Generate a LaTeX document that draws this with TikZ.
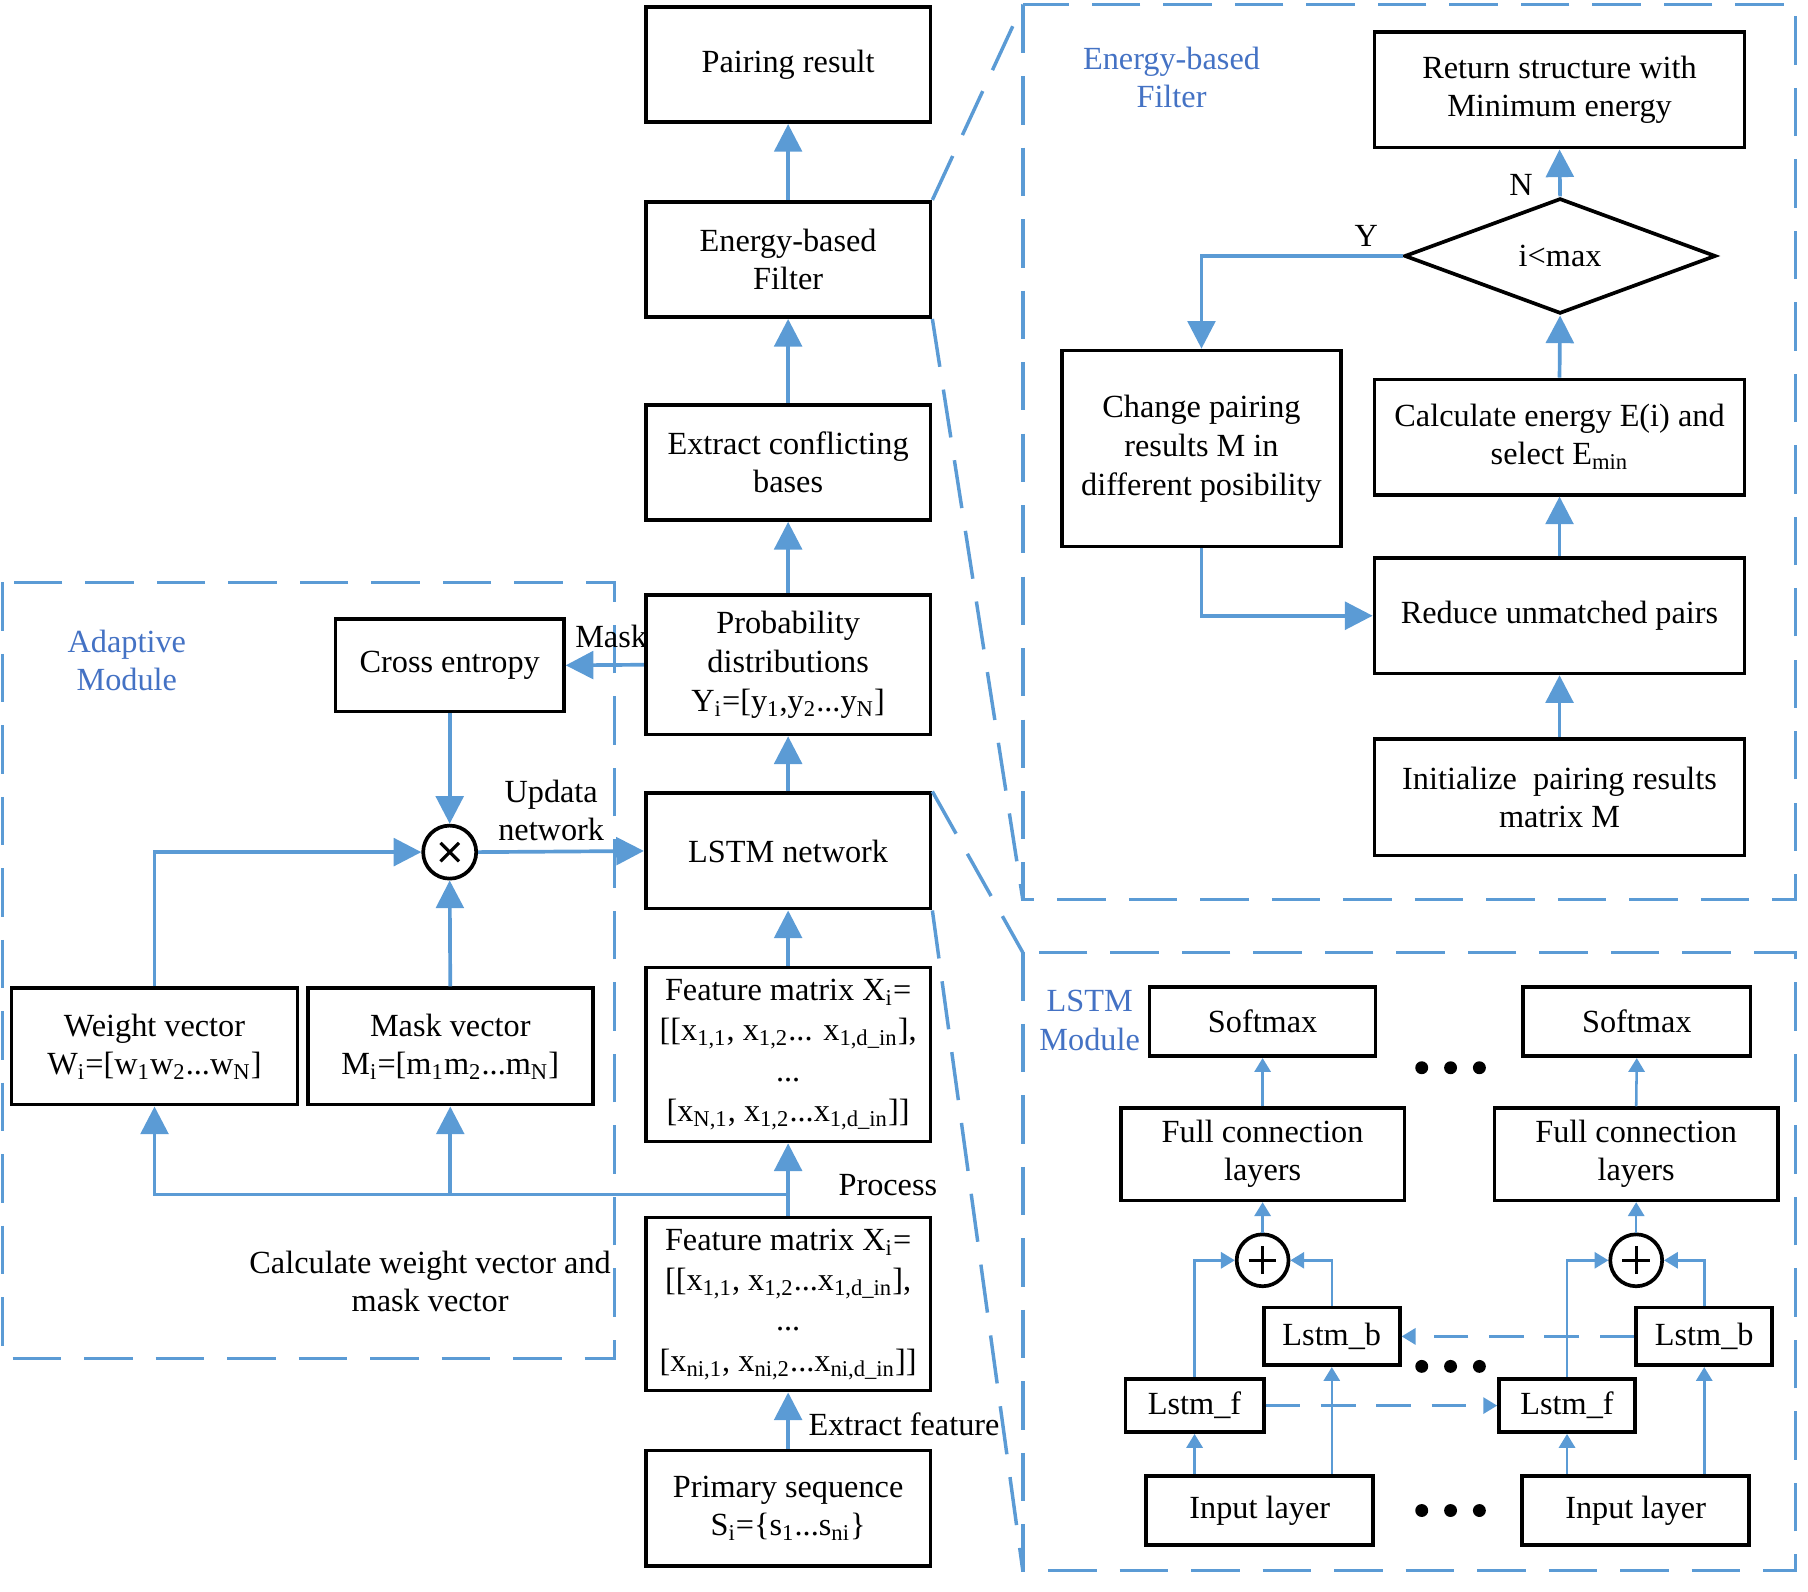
\documentclass[tikz,border=0pt]{standalone}
\usepackage{fontspec}
\setmainfont{Liberation Serif}
\usetikzlibrary{arrows.meta,shapes.geometric,calc}
\definecolor{lblue}{RGB}{91,155,213}
\definecolor{tblue}{RGB}{68,114,196}
\begin{document}
\begin{tikzpicture}[x=0.5pt,y=-0.5pt,
  every node/.style={font=\fontsize{14}{16.5}\selectfont, align=center, inner sep=0pt},
  box/.style={draw=black, line width=1.6pt, fill=white},
  arr/.style={draw=lblue, line width=1.6pt, -{Triangle[length=12pt,width=12pt]}},
  sarr/.style={draw=lblue, line width=1.1pt, -{Triangle[length=6pt,width=7pt]}},
  sdash/.style={sarr, dash pattern=on 15pt off 9pt},
  panel/.style={draw=lblue, line width=1.5pt, dash pattern=on 21pt off 10pt},
  title/.style={text=tblue},
  dot/.style={circle, fill=black, minimum size=5.6pt, inner sep=0pt},
]
\useasboundingbox (0,0) rectangle (1568,1380);

% ---------- panels ----------
\coordinate (aNW) at (2,505);   \coordinate (aSE) at (533,1178);
\coordinate (eNW) at (887,4);   \coordinate (eSE) at (1557,780);  \coordinate (eSW) at (887,780);
\coordinate (lNW) at (887,826); \coordinate (lSE) at (1557,1362); \coordinate (lSW) at (887,1362);
\draw[panel] (aNW) rectangle (aSE);
\draw[panel] (eNW) rectangle (eSE);
\draw[panel] (lNW) rectangle (lSE);

% ---------- central column ----------
\node[box, minimum width=123.5pt, minimum height=50pt] (pair) at (683.5,56) {Pairing result};
\node[box, minimum width=123.5pt, minimum height=50pt] (ebf) at (683.5,225) {Energy-based\\Filter};
\node[box, minimum width=123.5pt, minimum height=50pt] (ecb) at (683.5,401) {Extract conflicting\\bases};
\node[box, minimum width=123.5pt, minimum height=60.5pt, font=\fontsize{14}{17}\selectfont] (prob) at (683.5,576.5)
  {Probability\\distributions\\Y\textsubscript{i}=[y\textsubscript{1},y\textsubscript{2}...y\textsubscript{N}]};
\node[box, minimum width=123.5pt, minimum height=50pt] (lstm) at (683.5,738) {LSTM network};
\node[box, minimum width=123.5pt, minimum height=75.5pt, font=\fontsize{14}{17.5}\selectfont] (feat1) at (683.5,914.5)
  {Feature matrix X\textsubscript{i}=\\{}[[x\textsubscript{1,1}, x\textsubscript{1,2}... x\textsubscript{1,d\_in}],\\...\\{}[x\textsubscript{N,1}, x\textsubscript{1,2}...x\textsubscript{1,d\_in}]]};
\node[box, minimum width=123.5pt, minimum height=75pt, font=\fontsize{14}{17.5}\selectfont] (feat2) at (683.5,1131)
  {Feature matrix X\textsubscript{i}=\\{}[[x\textsubscript{1,1}, x\textsubscript{1,2}...x\textsubscript{1,d\_in}],\\...\\{}[x\textsubscript{ni,1}, x\textsubscript{ni,2}...x\textsubscript{ni,d\_in}]]};
\node[box, minimum width=123.5pt, minimum height=50pt] (prim) at (683.5,1308)
  {Primary sequence\\S\textsubscript{i}=\{s\textsubscript{1}...s\textsubscript{ni}\}};

% ---------- adaptive module ----------
\node[title] (atitle) at (110,573) {Adaptive\\Module};
\node[box, minimum width=99pt, minimum height=40pt] (cross) at (390,577) {Cross entropy};
\node[circle, draw=black, line width=1.6pt, minimum size=23pt, fill=white] (ot) at (390,739) {};
\draw[line width=1.4pt] (ot.center) +(-4pt,-4pt) -- +(4pt,4pt);
\draw[line width=1.4pt] (ot.center) +(-4pt,4pt) -- +(4pt,-4pt);
\node[box, minimum width=124pt, minimum height=50.5pt] (weight) at (134,907.5)
  {Weight vector\\W\textsubscript{i}=[w\textsubscript{1}w\textsubscript{2}...w\textsubscript{N}]};
\node[box, minimum width=123.5pt, minimum height=50.5pt] (maskv) at (390.5,907.5)
  {Mask vector\\M\textsubscript{i}=[m\textsubscript{1}m\textsubscript{2}...m\textsubscript{N}]};
\node (lblMask) at (530,552) {Mask};
\node (lblUpd) at (478,703) {Updata\\network};
\node (lblProc) at (770,1028) {Process};
\node (lblExt) at (784,1235) {Extract feature};
\node (lblCalc) at (373,1111) {Calculate weight vector and\\mask vector};

% ---------- central arrows ----------
\draw[arr] (ebf.north) -- (pair.south);
\draw[arr] (ecb.north) -- (ebf.south);
\draw[arr] (prob.north) -- (ecb.south);
\draw[arr] (lstm.north) -- (prob.south);
\draw[arr] (feat1.north) -- (lstm.south);
\draw[arr] (feat2.north) -- (feat1.south);
\draw[arr] (prim.north) -- (feat2.south);
\coordinate (bus) at (683.5,1036);
\draw[arr] (bus) -| (weight.south);
\draw[arr] (bus) -| (maskv.south);
\draw[arr] (prob.west) -- (cross.east);
\draw[arr] (cross.south) -- (ot.north);
\draw[arr] (weight.north) |- (ot.west);
\draw[arr] (maskv.north) -- (ot.south);
\draw[arr] (ot.east) -- (lstm.west);

% ---------- zoom lines ----------
\draw[panel] (ebf.north east) -- (eNW);
\draw[panel] (ebf.south east) -- (eSW);
\draw[panel] (lstm.north east) -- (lNW);
\draw[panel] (lstm.south east) -- (lSW);

% ---------- energy-based filter panel ----------
\node[title] (etitle) at (1016,67) {Energy-based\\Filter};
\node[box, minimum width=160.5pt, minimum height=50pt] (ret) at (1352.5,78) {Return structure with\\Minimum energy};
\node[diamond, draw=black, line width=1.6pt, minimum width=135pt, minimum height=50pt, fill=white] (dia) at (1353,222) {i<max};
\node[box, minimum width=121pt, minimum height=85pt, font=\fontsize{14}{17}\selectfont] (change) at (1042,389)
  {Change pairing\\results M in\\different posibility};
\node[box, minimum width=160.5pt, minimum height=50pt] (calc) at (1352.5,379)
  {Calculate energy E(i) and\\select E\textsubscript{min}};
\node[box, minimum width=160.5pt, minimum height=50pt] (reduce) at (1352.5,534) {Reduce unmatched pairs};
\node[box, minimum width=160.5pt, minimum height=50.5pt] (init) at (1352.5,691.5)
  {Initialize\ \ pairing results\\matrix M};
\draw[arr] (init.north) -- (reduce.south);
\draw[arr] (reduce.north) -- (calc.south);
\draw[arr] (calc.north) -- (dia.south);
\draw[arr] (dia.north) -- (ret.south);
\draw[arr] (dia.west) -| (change.north);
\draw[arr] (change.south) |- (reduce.west);
\node (lblN) at (1319,160) {N};
\node (lblY) at (1185,205) {Y};

% ---------- LSTM module panel ----------
\node[title] (ltitle) at (945,885) {LSTM\\Module};
\node[box, minimum width=98pt, minimum height=30pt] (soft1) at (1095,886) {Softmax};
\node[box, minimum width=98.5pt, minimum height=30pt] (soft2) at (1419.5,886) {Softmax};
\node[box, minimum width=123pt, minimum height=40pt] (full1) at (1095,1001) {Full connection\\layers};
\node[box, minimum width=123pt, minimum height=40pt] (full2) at (1419,1001) {Full connection\\layers};
\node[circle, draw=black, line width=1.6pt, minimum size=22.5pt, fill=white] (plus1) at (1095,1093) {};
\node[circle, draw=black, line width=1.6pt, minimum size=22.5pt, fill=white] (plus2) at (1419,1093) {};
\foreach \p in {plus1,plus2}{
  \draw[line width=1.4pt] (\p.center) +(-6pt,0) -- +(6pt,0);
  \draw[line width=1.4pt] (\p.center) +(0,-6pt) -- +(0,6pt);
}
\node[box, minimum width=59pt, minimum height=25pt] (lb1) at (1155,1159) {Lstm\_b};
\node[box, minimum width=59pt, minimum height=25pt] (lb2) at (1478,1159) {Lstm\_b};
\node[box, minimum width=60pt, minimum height=23pt] (lf1) at (1036,1219) {Lstm\_f};
\node[box, minimum width=59pt, minimum height=23pt] (lf2) at (1359,1219) {Lstm\_f};
\node[box, minimum width=98.5pt, minimum height=30pt] (in1) at (1092.5,1310) {Input layer};
\node[box, minimum width=98.5pt, minimum height=30pt] (in2) at (1418.5,1310) {Input layer};

\foreach \i in {1,2}{
  \draw[sarr] (full\i.north) -- (soft\i.south);
  \draw[sarr] (plus\i.north) -- (full\i.south);
  \draw[sarr] (lf\i.north) |- (plus\i.west);
  \draw[sarr] (lb\i.north) |- (plus\i.east);
  \draw[sarr] (lf\i.south |- in\i.north) -- (lf\i.south);
  \draw[sarr] (lb\i.south |- in\i.north) -- (lb\i.south);
}
\draw[sdash] (lf1.east) -- (lf2.west);
\draw[sdash] (lb2.west) -- (lb1.east);

\foreach \y [count=\k] in {926,1185,1310}{
  \node[dot] (dA\k) at (1233,\y) {};
  \node[dot] (dB\k) at (1258,\y) {};
  \node[dot] (dC\k) at (1283,\y) {};
}
\end{tikzpicture}
\end{document}
